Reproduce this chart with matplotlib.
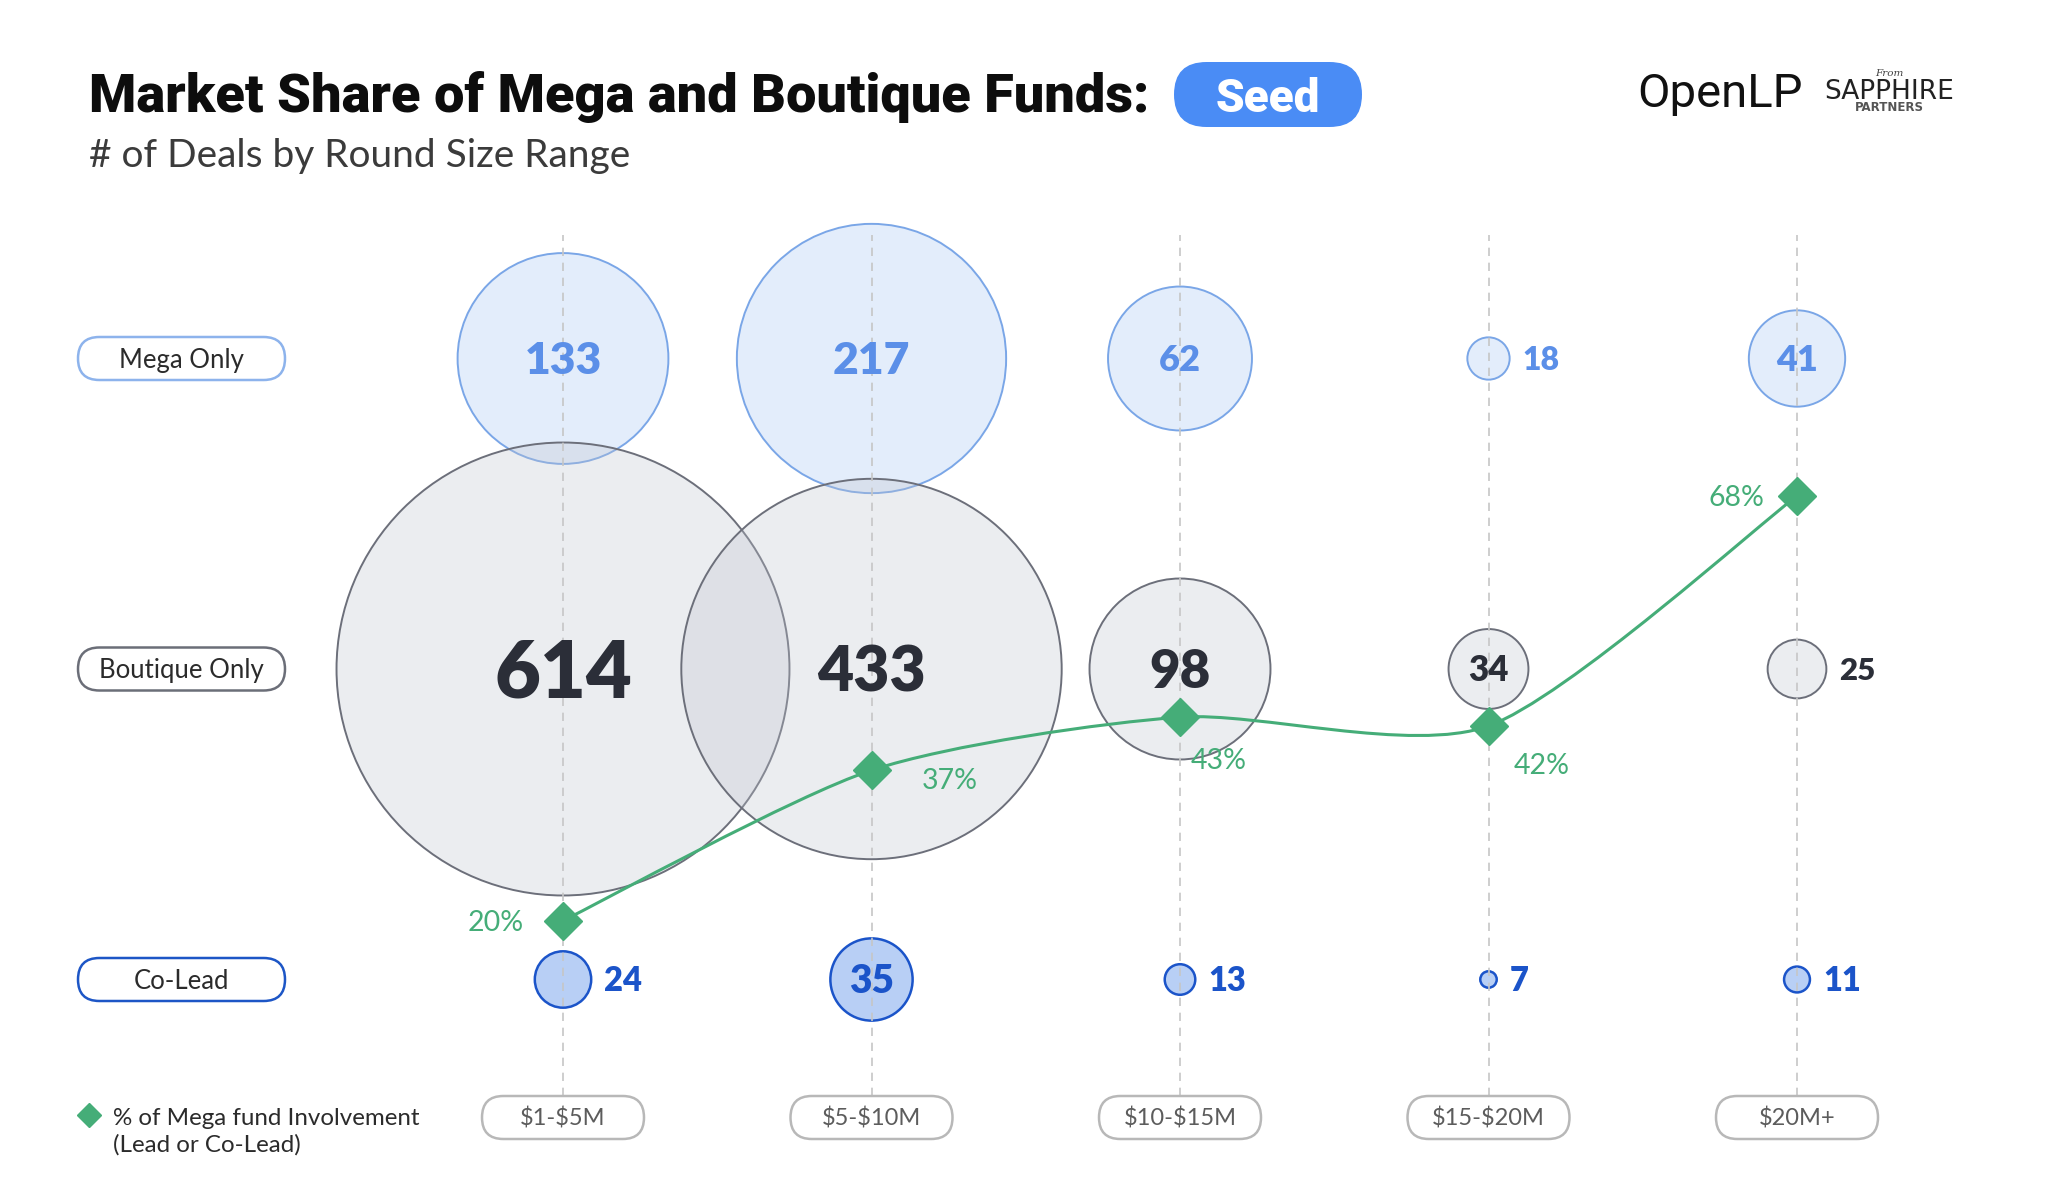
import numpy as np
import matplotlib
matplotlib.use("Agg")
import matplotlib.pyplot as plt
from matplotlib.colors import to_rgba
from matplotlib.patches import FancyBboxPatch, PathPatch
from matplotlib.path import Path

# data
rounds = ["$1-$5M", "$5-$10M", "$10-$15M", "$15-$20M", "$20M+"]
groups = ["Mega Only", "Boutique Only", "Co-Lead"]
mega_only = [133, 217, 62, 18, 41]
boutique_only = [614, 433, 98, 34, 25]
co_lead = [24, 35, 13, 7, 11]
mega_share = [20, 37, 43, 42, 68]   # % of mega fund involvement (lead or co-lead)

# layout, in pixels of the 2048x1204 canvas
W, H = 2048, 1204
COL0, COL_STEP = 563, 308.5      # x pixel of first round, pixels per round
ROW0, ROW_STEP = 979.5, 310.5    # y pixel of bottom row, pixels per row
PCT0, PCT_STEP = 1097.7, 8.85    # y pixel of 0 %, pixels per percent

GREEN = "#45ad78"
NUM_WEIGHT = "heavy"
plt.rcParams["font.family"] = ["Lato", "DejaVu Sans"]

styles = {
    "Mega Only": dict(face="#a9c9f3", alpha=0.32, edge="#7aa6e7", text="#5b8fe8",
                      lw=1.4, pill="#8db3ec", sizes=[(100, 32), (0, 26)], outside=23),
    "Boutique Only": dict(face="#c0c4cf", alpha=0.3, edge="#6c6f7a", text="#2b2e38",
                          lw=1.4, pill="#6b6e78",
                          sizes=[(500, 57), (200, 45), (90, 38), (0, 25)], outside=22.5),
    "Co-Lead": dict(face="#a6c4f3", alpha=0.8, edge="#1b54c9", text="#1b54c9",
                    lw=1.8, pill="#1d56c6", sizes=[(0, 28)], outside=23.5),
}


def bubble_radius(v):
    # pixels: linear for small counts, area-true for large ones
    v = np.asarray(v, dtype=float)
    return np.minimum(1.175 * v, 9.14 * np.sqrt(v))


def label_size(style, v):
    for limit, fs in style["sizes"]:
        if v >= limit:
            return fs
    return style["sizes"][-1][1]


fig = plt.figure(figsize=(W / 100, H / 100), dpi=100)

# pixel axes for the header and legend
bg = fig.add_axes([0, 0, 1, 1])
bg.set_xlim(0, W)
bg.set_ylim(H, 0)
bg.axis("off")

# data axes: x = round index, y = row index
ax = fig.add_axes([0, 0, 1, 1])
ax.set_xlim(-COL0 / COL_STEP, (W - COL0) / COL_STEP)
ax.set_ylim((ROW0 - H) / ROW_STEP, ROW0 / ROW_STEP)
ax.axis("off")

x = np.arange(len(rounds))
rows = {"Mega Only": 2, "Boutique Only": 1, "Co-Lead": 0}
series = {"Mega Only": mega_only, "Boutique Only": boutique_only, "Co-Lead": co_lead}

# dashed guides
ax.vlines(x, (ROW0 - 1096) / ROW_STEP, (ROW0 - 235) / ROW_STEP, colors="#c6c6c6",
          linestyles=(0, (5, 4)), linewidth=1.2, zorder=3)

# bubbles
for g in groups:
    st = styles[g]
    vals = series[g]
    y = rows[g]
    r = bubble_radius(vals)
    ax.scatter(x, [y] * len(x), s=(2 * r * 0.72) ** 2,
               facecolors=[to_rgba(st["face"], st["alpha"])],
               edgecolors=st["edge"], linewidths=st["lw"], zorder=2)
    for xi, v, ri in zip(x, vals, r):
        if ri > 33:
            fs = label_size(st, v)
            ax.annotate(str(v), (xi, y), xytext=(0, -0.7165 * fs / 2), textcoords="offset points",
                        ha="center", va="baseline", fontsize=fs, fontweight=NUM_WEIGHT,
                        color=st["text"], zorder=5)
        else:
            fs = st["outside"]
            ax.annotate(str(v), (xi, y), xytext=((ri + 13) * 0.72, -0.7165 * fs / 2),
                        textcoords="offset points", ha="left", va="baseline",
                        fontsize=fs, fontweight=NUM_WEIGHT, color=st["text"], zorder=5)

    # row label pill
    pw, ph = 207 / COL_STEP, 43 / ROW_STEP
    px = (181.5 - COL0) / COL_STEP
    ax.add_patch(FancyBboxPatch((px - pw / 2, y - ph / 2), pw, ph,
                                boxstyle=f"round,pad=0,rounding_size={ph / 2}",
                                fc="white", ec=st["pill"], lw=1.8, zorder=4))
    ax.annotate(g, (px, y), xytext=(0, -0.7165 * 18.5 / 2), textcoords="offset points",
                ha="center", va="baseline", fontsize=18.5, color="#2b2b2b", zorder=5)

# round size pills along the bottom
yl = (ROW0 - 1117.5) / ROW_STEP
tw, th = 162 / COL_STEP, 43 / ROW_STEP
for xi, lab in zip(x, rounds):
    ax.add_patch(FancyBboxPatch((xi - tw / 2, yl - th / 2), tw, th,
                                boxstyle=f"round,pad=0,rounding_size={th / 2}",
                                fc="white", ec="#b8b8b8", lw=1.8, zorder=4))
    ax.annotate(lab, (xi, yl), xytext=(0, -0.7165 * 17 / 2), textcoords="offset points",
                ha="center", va="baseline", fontsize=17, color="#5c5c5c", zorder=5,
                annotation_clip=False).set_parse_math(False)

# mega fund involvement line on its own percent axis
ax2 = ax.twinx()
ax2.set_ylim((PCT0 - H) / PCT_STEP, PCT0 / PCT_STEP)
ax2.axis("off")

TENSION = 0.75   # cardinal spline, 1 = catmull-rom
pts = np.column_stack([x, mega_share]).astype(float)
ext = np.vstack([pts[0], pts, pts[-1]])
verts, codes = [pts[0]], [Path.MOVETO]
for i in range(len(pts) - 1):
    p0, p1, p2, p3 = ext[i], ext[i + 1], ext[i + 2], ext[i + 3]
    verts += [p1 + TENSION * (p2 - p0) / 6, p2 - TENSION * (p3 - p1) / 6, p2]
    codes += [Path.CURVE4] * 3
ax2.add_patch(PathPatch(Path(verts, codes), fc="none", ec=GREEN, lw=2.2, zorder=6))
ax2.plot(x, mega_share, ls="none", marker="D", ms=19, color=GREEN, zorder=7)

pct_offsets = [(-28, 0, "right"), (36, -6, "left"), (7.5, -30, "left"),
               (18, -27, "left"), (-23.5, 0, "right")]
for xi, p, (dx, dy, ha) in zip(x, mega_share, pct_offsets):
    ax2.annotate(f"{p}%", (xi, p), xytext=(dx, dy - 0.7165 * 20.5 / 2), textcoords="offset points",
                 ha=ha, va="baseline", fontsize=20.5, color=GREEN, zorder=8)

# header
bg.text(89, 112, "Market Share of Mega and Boutique Funds:", fontsize=39, fontweight="black",
        family=["Roboto", "DejaVu Sans"], color="#0d0d0d", ha="left", va="baseline")
bg.add_patch(FancyBboxPatch((1174, 62), 188, 65, boxstyle="round,pad=0,rounding_size=32.5",
                            fc="#4a8cf5", ec="none"))
bg.text(1268, 112, "Seed", fontsize=33, fontweight="black", family=["Roboto", "DejaVu Sans"],
        color="white", ha="center", va="baseline")
bg.text(89, 167, "# of Deals by Round Size Range", fontsize=28, color="#3b3b3b",
        ha="left", va="baseline")

# logos
bg.text(1637, 107, "OpenLP", fontsize=34, family=["Roboto", "DejaVu Sans"], color="#111111",
        ha="left", va="baseline")
bg.text(1889, 76, "From", fontsize=7.5, family="DejaVu Serif", style="italic", color="#444444",
        ha="center", va="baseline")
bg.text(1889.5, 99, "SAPPHIRE", fontsize=19, family="DejaVu Sans", color="#222222",
        ha="center", va="baseline")
bg.text(1889, 111, "PARTNERS", fontsize=8.5, family="DejaVu Sans", fontweight="bold",
        color="#555555", ha="center", va="baseline")

# legend
bg.plot([89], [1114.5], ls="none", marker="D", ms=12.7, color=GREEN)
bg.text(113, 1125, "% of Mega fund Involvement", fontsize=17.4, color="#2b2b2b",
        ha="left", va="baseline")
bg.text(113, 1152, "(Lead or Co-Lead)", fontsize=17.4, color="#2b2b2b", ha="left", va="baseline")

fig.savefig("out.png", dpi=100)
